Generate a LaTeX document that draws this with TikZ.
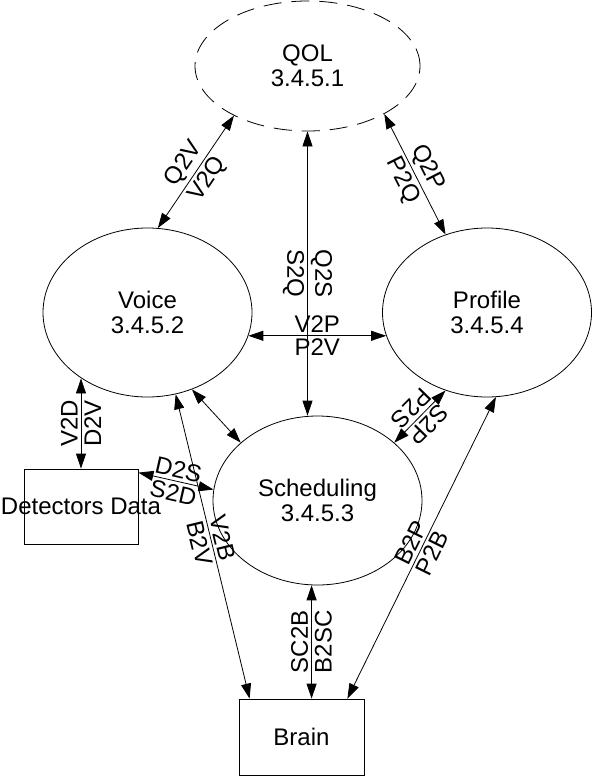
\documentclass[tikz,border=0pt]{standalone}
\usepackage{fontspec}
\setmainfont{Liberation Sans}
\usetikzlibrary{shapes.geometric,arrows.meta}

\tikzset{
  bubble/.style={draw, ellipse, line width=0.8pt, minimum width=209pt,
    minimum height=169pt, inner sep=0pt, align=center},
  store/.style={draw, rectangle, line width=0.8pt, inner sep=0pt},
  flow/.style={line width=0.8pt,
    {Triangle[length=15pt,width=10pt]}-{Triangle[length=15pt,width=10pt]}},
  tag/.style={sloped, inner sep=3pt}
}

\begin{document}
\begin{tikzpicture}[x=1pt, y=-1pt, font=\fontsize{24}{25}\selectfont]
    \useasboundingbox (0,0) rectangle (592,776);
    % processes
    \node[bubble, dash pattern=on 18pt off 10pt, minimum width=225pt,
      minimum height=130pt] (QOL) at (307.5,66) {QOL\\3.4.5.1};
    \node[bubble] (Voice)   at (147.5,312.5) {Voice\\3.4.5.2};
    \node[bubble] (Profile) at (487,312.5)   {Profile\\3.4.5.4};
    \node[bubble] (Sched)   at (317.5,500.5) {Scheduling\\3.4.5.3};
    % stores
    \node[store, minimum width=114pt, minimum height=75pt] (Detectors) at (81,506.5) {};
    \node (DetectorsText) at (Detectors.center) {Detectors Data};
    \node[store, minimum width=125pt, minimum height=76pt] (Brain) at (301.5,737) {Brain};

    % flows around QOL
    \draw[flow] (Voice.83) -- (QOL.214)
        node[tag, above, pos=0.5] {Q2V} node[tag, below, pos=0.5] {V2Q};
    \draw[flow] (QOL.-32) -- (Profile.118)
        node[tag, above, pos=0.5] {Q2P} node[tag, below, pos=0.5] {P2Q};
    \draw[flow] (QOL.south) -- (QOL.south |- Sched.north)
        node[tag, above, pos=0.5] {Q2S} node[tag, below, pos=0.5] {S2Q};
    % voice and profile
    \draw[flow] (Voice.-13) -- (Profile.193)
        node[tag, above, pos=0.5] {V2P} node[tag, below, pos=0.5] {P2V};
    \draw[flow] (Detectors.north) -- (Detectors.north |- Voice.225)
        node[tag, above, pos=0.5] {V2D} node[tag, below, pos=0.5] {D2V};
    \draw[flow] ([yshift=-4pt]Detectors.north east) -- (Sched.174)
        node[tag, above, pos=0.5] {D2S} node[tag, below, pos=0.5] {S2D};
    \draw[flow] (Voice.-60) -- (Sched.143);
    \draw[flow] (Profile.242) -- (Sched.37)
        node[tag, allow upside down, above, pos=0.5] {S2P}
        node[tag, allow upside down, below, pos=0.5] {P2S};
    % flows into the brain
    \draw[flow] (Voice.-71) -- ([xshift=11pt]Brain.north west)
        node[tag, above, pos=0.48] {V2B} node[tag, below, pos=0.48] {B2V};
    \draw[flow] ([xshift=-17pt]Brain.north east) -- (Profile.-84)
        node[tag, above, pos=0.5] {B2P} node[tag, below, pos=0.5] {P2B};
    \draw[flow] (Sched.-94 |- Brain.north) -- (Sched.-94)
        node[tag, above, pos=0.5] {SC2B} node[tag, below, pos=0.5] {B2SC};
\end{tikzpicture}
\end{document}
